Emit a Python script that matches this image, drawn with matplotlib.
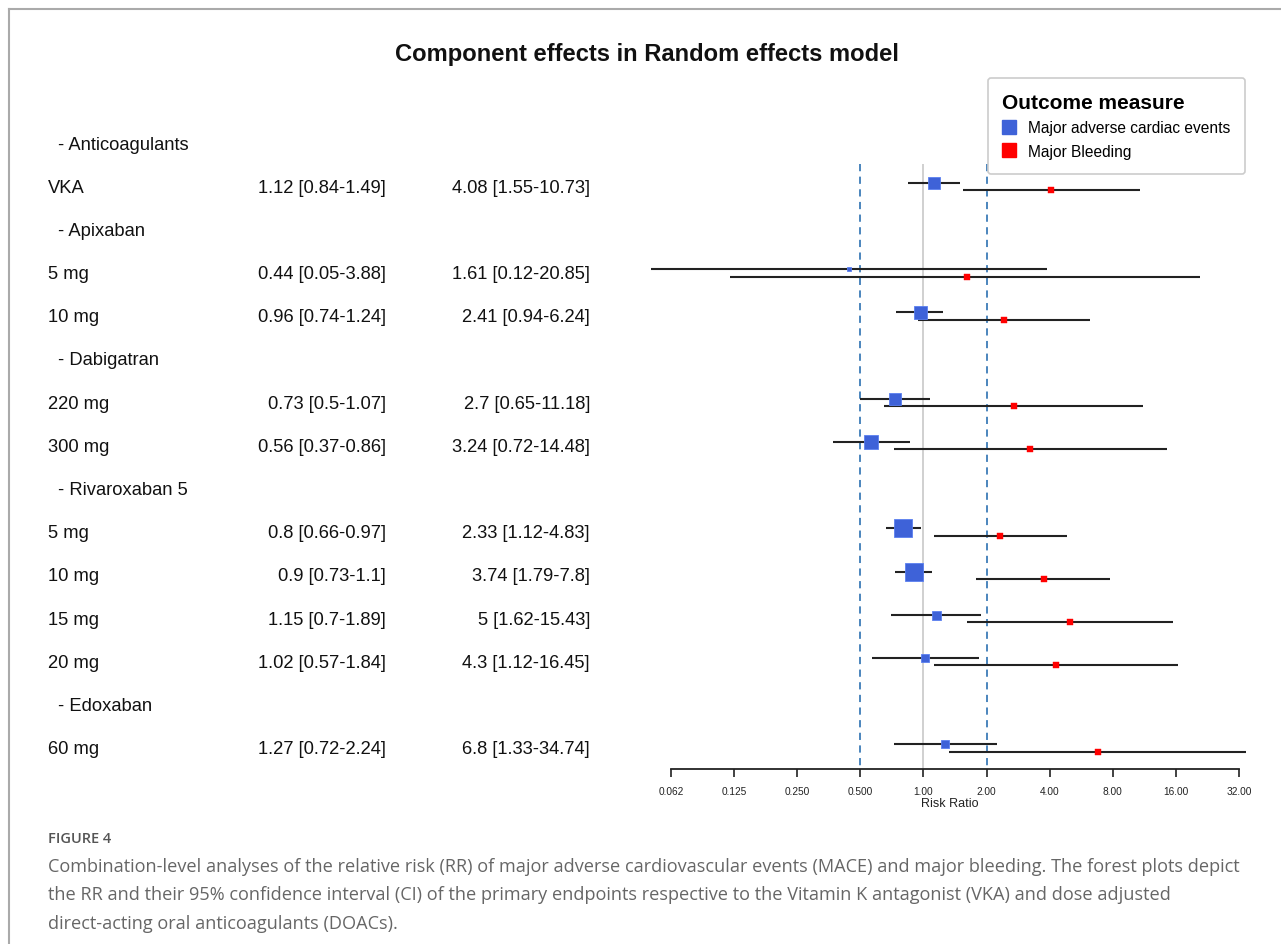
import numpy as np
import matplotlib
matplotlib.use("Agg")
import matplotlib.pyplot as plt
from matplotlib.lines import Line2D

# ---------------- data ----------------
groups = ["Anticoagulants", "Apixaban", "Dabigatran", "Rivaroxaban 5", "Edoxaban"]
doses = [["VKA"], ["5 mg", "10 mg"], ["220 mg", "300 mg"],
         ["5 mg", "10 mg", "15 mg", "20 mg"], ["60 mg"]]

mace_rr = [1.12, 0.44, 0.96, 0.73, 0.56, 0.8, 0.9, 1.15, 1.02, 1.27]
mace_lo = [0.84, 0.05, 0.74, 0.5, 0.37, 0.66, 0.73, 0.7, 0.57, 0.72]
mace_hi = [1.49, 3.88, 1.24, 1.07, 0.86, 0.97, 1.1, 1.89, 1.84, 2.24]
mace_weight = [12, 5, 13, 12, 14, 18, 18, 9, 8, 8]

bleed_rr = [4.08, 1.61, 2.41, 2.7, 3.24, 2.33, 3.74, 5, 4.3, 6.8]
bleed_lo = [1.55, 0.12, 0.94, 0.65, 0.72, 1.12, 1.79, 1.62, 1.12, 1.33]
bleed_hi = [10.73, 20.85, 6.24, 11.18, 14.48, 4.83, 7.8, 15.43, 16.45, 34.74]
bleed_weight = [6, 6, 6, 6, 6, 6, 6, 6, 6, 6]

tick_values = [0.0625, 0.125, 0.25, 0.5, 1, 2, 4, 8, 16, 32]
tick_labels = ["0.062", "0.125", "0.250", "0.500", "1.00", "2.00", "4.00", "8.00", "16.00", "32.00"]
ref_lines = [0.5, 2]

title = "Component effects in Random effects model"
legend_title = "Outcome measure"
series_names = ["Major adverse cardiac events", "Major Bleeding"]
caption_head = "FIGURE 4"
caption_lines = [
    "Combination-level analyses of the relative risk (RR) of major adverse cardiovascular events (MACE) and major bleeding. The forest plots depict",
    "the RR and their 95% confidence interval (CI) of the primary endpoints respective to the Vitamin K antagonist (VKA) and dose adjusted",
    "direct-acting oral anticoagulants (DOACs).",
]

# ---------------- layout ----------------
W, H = 1281, 945
fig = plt.figure(figsize=(W / 100, H / 100), dpi=100)
plt.rcParams['font.family'] = ['Liberation Sans', 'DejaVu Sans']

def fx(px):
    return px / W

def fy(py):
    return 1 - py / H

row0_px, row_step = 145, 43.2
ax_left, ax_right = 640, 1260
ax_top, ax_bot = 120, 770
ax = fig.add_axes([fx(ax_left), fy(ax_bot), fx(ax_right - ax_left), (ax_bot - ax_top) / H])
ax.set_xscale('log', base=2)
ppu = 63.1  # px per doubling
x_lo = 2 ** (-4 - (671 - ax_left) / ppu)
x_hi = 2 ** (5 + (ax_right - 1239) / ppu)
ax.set_xlim(x_lo, x_hi)
y_top = (ax_top - row0_px) / row_step
y_bot = (ax_bot - row0_px) / row_step
ax.set_ylim(y_bot, y_top)

for s in ['top', 'right', 'left']:
    ax.spines[s].set_visible(False)
ax.spines['bottom'].set_bounds(tick_values[0], tick_values[-1])
ax.spines['bottom'].set_linewidth(1.3)
ax.spines['bottom'].set_color('#222222')
ax.set_yticks([])
ax.set_xticks(tick_values)
ax.set_xticklabels(tick_labels, fontsize=7.3, color='#222222')
ax.xaxis.set_minor_locator(matplotlib.ticker.NullLocator())
ax.tick_params(axis='x', direction='out', length=6, width=1.2, color='#222222', pad=6)
ax.set_xlabel("Risk Ratio", fontsize=9, labelpad=1, color='#222222')
ax.patch.set_alpha(0)

# row positions
rows = []
header_rows = []
r = 0
for g, ds in zip(groups, doses):
    header_rows.append((r, g))
    r += 1
    for d in ds:
        rows.append((r, d))
        r += 1

# reference lines
vtop = (165 - row0_px) / row_step
ax.vlines(1, vtop, y_bot, color='#c4c4c4', lw=1.1, zorder=1)
for v in ref_lines:
    ax.vlines(v, vtop, y_bot, color='#3d7cb8', lw=1.3, linestyles=(0, (4, 3)), zorder=1)

# forest marks
off_m, off_b = -0.1, 0.07
for i, (ri, _) in enumerate(rows):
    ym = ri + off_m
    yb = ri + off_b
    ax.plot([mace_lo[i], mace_hi[i]], [ym, ym], color='#222222', lw=1.5, zorder=2,
            solid_capstyle='butt')
    ax.plot([mace_rr[i]], [ym], marker='s', color='#3e62d8', mec='#5a7ff0', mew=0.6,
            markersize=mace_weight[i] * 0.72, zorder=3, linestyle='none')
    ax.plot([bleed_lo[i], bleed_hi[i]], [yb, yb], color='#222222', lw=1.5, zorder=2,
            solid_capstyle='butt')
    ax.plot([bleed_rr[i]], [yb], marker='s', color='#ff0000', mec='#ff0000', mew=0.3,
            markersize=bleed_weight[i] * 0.72, zorder=3, linestyle='none')

# left text columns
trans = matplotlib.transforms.blended_transform_factory(fig.transFigure, ax.transData)
fs = 13.2
for ri, g in header_rows:
    fig.text(fx(58), ri, "- " + g, transform=trans, fontsize=fs, va='center', ha='left', color='#111111')
fmt = lambda v: f"{v:g}"
for i, (ri, d) in enumerate(rows):
    fig.text(fx(48), ri, d, transform=trans, fontsize=fs, va='center', ha='left', color='#111111')
    fig.text(fx(386), ri, f"{fmt(mace_rr[i])} [{fmt(mace_lo[i])}-{fmt(mace_hi[i])}]",
             transform=trans, fontsize=fs, va='center', ha='right', color='#111111')
    fig.text(fx(590), ri, f"{fmt(bleed_rr[i])} [{fmt(bleed_lo[i])}-{fmt(bleed_hi[i])}]",
             transform=trans, fontsize=fs, va='center', ha='right', color='#111111')

# title
fig.text(fx(647), fy(55), title, fontsize=17.1, fontweight='bold', ha='center', va='center', color='#111111')

# legend
handles = [Line2D([], [], marker='s', linestyle='none', color='#3e62d8', markersize=10),
           Line2D([], [], marker='s', linestyle='none', color='#ff0000', markersize=10)]
leg = fig.legend(handles, series_names, loc='upper right',
                 bbox_to_anchor=(fx(1245), fy(79)), fontsize=11.2,
                 title=legend_title, title_fontproperties={'weight': 'bold', 'size': 15},
                 alignment='left', frameon=True, fancybox=True, edgecolor='#cccccc',
                 framealpha=1, handlelength=0.9, handletextpad=0.75, labelspacing=0.55,
                 borderpad=0.95, borderaxespad=0)
leg.get_frame().set_linewidth(1.2)

# page frame lines
fig.add_artist(Line2D([fx(9), 1], [fy(10), fy(10)], color='#aaaaaa', lw=1.5))
fig.add_artist(Line2D([fx(9), fx(9)], [fy(10), 0], color='#aaaaaa', lw=1.5))

# caption
fig.text(fx(48), fy(839), caption_head, fontsize=10.5, color='#555555', ha='left', va='center',
         family=['Open Sans', 'DejaVu Sans'], fontweight='semibold')
for k, line in enumerate(caption_lines):
    fig.text(fx(48), fy(867 + 28.5 * k), line, fontsize=13.1, color='#666666', ha='left',
             va='center', family=['Open Sans', 'DejaVu Sans'])

fig.savefig("out.png", dpi=100, facecolor='white')
